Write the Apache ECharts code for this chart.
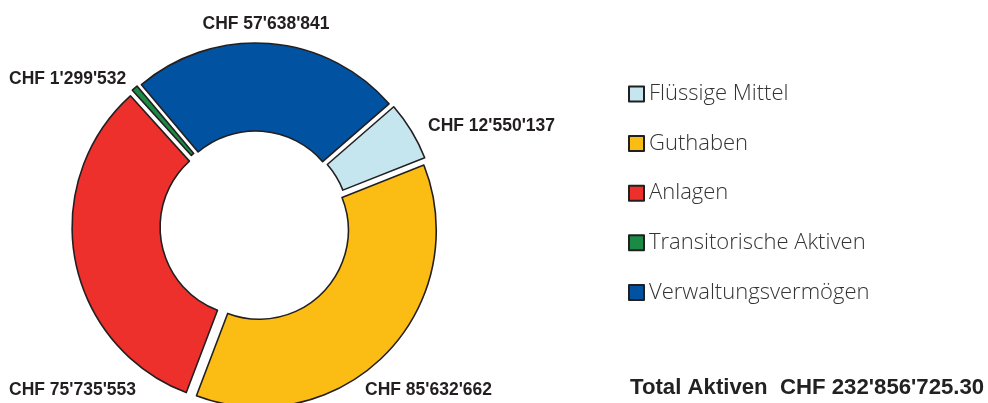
<!DOCTYPE html>
<html><head><meta charset="utf-8">
<script src="https://cdn.jsdelivr.net/npm/echarts@6/dist/echarts.min.js"></script>
<style>html,body{margin:0;padding:0;background:#fff}#c{width:988px;height:403px}</style>
</head><body><div id="c"></div>
<script>
const categories = ['Flüssige Mittel','Guthaben','Anlagen','Transitorische Aktiven','Verwaltungsvermögen'];
const values = [12550137, 85632662, 75735553, 1299532, 57638841];
const colors = ['#c5e6ef','#fbbd13','#ee302c','#1a8a44','#0152a1'];
const totalLabel = "Total Aktiven  CHF 232'856'725.30";

function fmt(v){ return String(v).replace(/\B(?=(\d{3})+(?!\d))/g, "'"); }
const labelPos = [
  {x:428, y:126, align:'left'},
  {x:365, y:390, align:'left'},
  {x:9, y:390, align:'left'},
  {x:9, y:79, align:'left'},
  {x:266, y:24, align:'center'}
];
const labelFont = 'bold 17.5px "Liberation Sans", Arial';
const valueLabels = values.map((v,i)=>({
  type:'text', x:labelPos[i].x, y:labelPos[i].y,
  style:{text:'CHF '+fmt(v), font:labelFont, fill:'#231f20', align:labelPos[i].align, verticalAlign:'middle'}
}));
const chart = echarts.init(document.getElementById('c'));
chart.setOption({
  animation:false,
  legend:{
    orient:'vertical', left:623, top:78, itemWidth:15, itemHeight:15, itemGap:27.6,
    icon:'rect', selectedMode:false,
    itemStyle:{borderColor:'#231f20', borderWidth:2},
    textStyle:{fontFamily:'"Open Sans"', fontWeight:300, fontSize:22, color:'#333', lineHeight:20}
  },
  graphic:[
    {type:'text', x:630, y:388, style:{text:totalLabel, font:'bold 22.2px "Liberation Sans", Arial', fill:'#222', verticalAlign:'middle'}}
  ].concat(valueLabels),
  series:[{
    type:'pie', center:[255,226], radius:[89,177], startAngle:41, clockwise:true,
    selectedMode:'multiple', selectedOffset:6, avoidLabelOverlap:false,
    itemStyle:{borderColor:'#231f20', borderWidth:1.6},
    label:{show:false},
    labelLine:{show:false},
    emphasis:{disabled:true},
    data:categories.map((n,i)=>({name:n, value:values[i], selected:true, itemStyle:{color:colors[i]}}))
  }]
});
</script></body></html>
